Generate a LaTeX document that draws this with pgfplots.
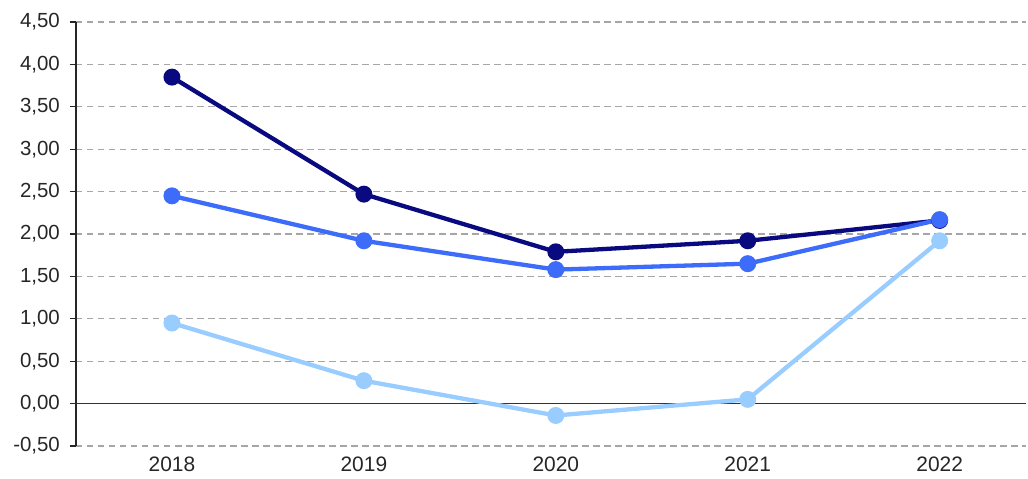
\documentclass[border=0pt]{standalone}
\usepackage{pgfplots}
\pgfplotsset{compat=1.18}
\usepackage{fontspec}
\setmainfont{Liberation Sans}
\definecolor{cdark}{HTML}{0A0A80}
\definecolor{cmed}{HTML}{3D6BFA}
\definecolor{clight}{HTML}{99CCFF}
\definecolor{cgrid}{HTML}{A6A6A6}
\begin{document}
\fontsize{21}{25}\selectfont
\begin{tikzpicture}[x=1bp,y=1bp]
\begin{axis}[
  at={(0,0)}, anchor=south west,
  scale only axis, width=950bp, height=424bp,
  xmin=-0.5, xmax=4.45, ymin=-0.5, ymax=4.5,
  axis y line*=left, axis x line*=bottom,
  x axis line style={draw=none},
  y axis line style={black!85, line width=1.6bp},
  xtick={0,1,2,3,4}, xticklabels={2018,2019,2020,2021,2022},
  xtick style={draw=none},
  ytick={-0.5,0,0.5,1,1.5,2,2.5,3,3.5,4,4.5},
  tick align=outside, major tick length=6bp,
  ytick style={black!85, line width=1.2bp},
  ymajorgrids, major grid style={cgrid, line width=1.1bp, dash pattern=on 6.5bp off 4.5bp},
  yticklabel style={/pgf/number format/fixed, /pgf/number format/fixed zerofill, /pgf/number format/precision=2, /pgf/number format/use comma, /pgf/number format/assume math mode=true},
  yticklabel style={font=\fontsize{20.5}{24}\selectfont, text=black!85, xshift=-3bp},
  xticklabel style={font=\fontsize{21}{25}\selectfont, text=black!85, inner sep=1bp, yshift=-4bp},
  clip=false,
]
\addplot[forget plot, draw=black!80, line width=1.6bp] coordinates {(-0.5,0) (4.45,0)};
\addplot[cdark, line width=4.3bp, mark=*, mark size=6.3bp] coordinates {(0,3.85) (1,2.47) (2,1.79) (3,1.92) (4,2.16)};
\addplot[cmed, line width=4.3bp, mark=*, mark size=6.3bp] coordinates {(0,2.45) (1,1.92) (2,1.58) (3,1.65) (4,2.17)};
\addplot[clight, line width=4.3bp, mark=*, mark size=6.3bp] coordinates {(0,0.95) (1,0.27) (2,-0.14) (3,0.05) (4,1.92)};
\end{axis}
\pgfresetboundingbox
\path[use as bounding box] (-76bp,-33bp) rectangle (952bp,446bp);
\end{tikzpicture}
\end{document}
